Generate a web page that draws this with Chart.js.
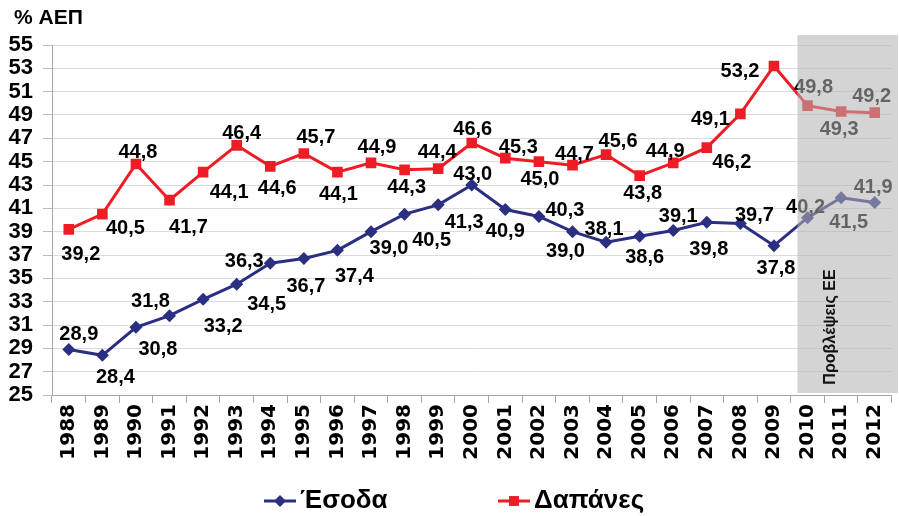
<!DOCTYPE html>
<html>
<head>
<meta charset="utf-8">
<script src="https://cdn.jsdelivr.net/npm/chart.js@4/dist/chart.umd.min.js"></script>
<style>
  html, body { margin: 0; padding: 0; background: #ffffff; }
  #wrap { width: 899px; height: 516px; position: relative; }
</style>
</head>
<body>
<div id="wrap"><canvas id="c" width="899" height="516"></canvas></div>
<script>
// ---- data ----
const years = ['1988','1989','1990','1991','1992','1993','1994','1995','1996','1997','1998','1999',
               '2000','2001','2002','2003','2004','2005','2006','2007','2008','2009','2010','2011','2012'];
const revenue = [28.9,28.4,30.8,31.8,33.2,34.5,36.3,36.7,37.4,39.0,40.5,41.3,
                 43.0,40.9,40.3,39.0,38.1,38.6,39.1,39.8,39.7,37.8,40.2,41.9,41.5];
const expenditure = [39.2,40.5,44.8,41.7,44.1,46.4,44.6,45.7,44.1,44.9,44.3,44.4,
                     46.6,45.3,45.0,44.7,45.6,43.8,44.9,46.2,49.1,53.2,49.8,49.3,49.2];
const seriesNames = ['Έσοδα', 'Δαπάνες'];
const yMin = 25, yMax = 55, yStep = 2;
const forecastFrom = '2010';
const forecastLabel = 'Προβλέψεις ΕΕ';
const axisTitle = '% ΑΕΠ';

// ---- label placement (style, not data) ----
const revOffsets = [[10,-15],[13,22],[22,22],[-19,-14],[20,27],[30,20],[-26,-2],[2,28],[17,26],[18,17],[27,26],[26,18],
                    [1,-11],[0,22],[26,-6],[-7,20],[-2,-13],[5,21],[5,-14],[2,27],[14,-8],[2,23],[-2,-10],[32,-10],[-26,20]];
const expOffsets = [[12,25],[23,14],[2,-12],[19,27],[26,20],[5,-12],[7,22],[12,-16],[1,22],[6,-15],[2,18],[-1,-16],
                    [1,-14],[13,-11],[1,18],[2,-11],[12,-13],[3,18],[-8,-11],[25,15],[-30,6],[-34,5],[6,-18],[-2,18],[-3,-16]];

const NAVY = '#2b2f82';
const RED = '#ee1c25';
const fmt = v => v.toFixed(1).replace('.', ',');

const overlayPlugin = {
  id: 'overlay',
  afterDatasetsDraw(chart) {
    const ctx = chart.ctx;
    const xs = chart.scales.x, ys = chart.scales.y;
    // data labels
    ctx.save();
    ctx.font = 'bold 20px "Liberation Sans", Arial, sans-serif';
    ctx.fillStyle = '#000';
    ctx.textAlign = 'center';
    ctx.textBaseline = 'middle';
    [[0, revenue, revOffsets], [1, expenditure, expOffsets]].forEach(([di, vals, offs]) => {
      const meta = chart.getDatasetMeta(di);
      meta.data.forEach((pt, i) => {
        const o = offs[i] || [0, -14];
        ctx.fillText(fmt(vals[i]), pt.x + o[0], pt.y + o[1]);
      });
    });
    ctx.restore();

    // forecast shading overlay
    const idx = years.indexOf(forecastFrom);
    const cw = xs.getPixelForValue(1) - xs.getPixelForValue(0);
    const left = xs.getPixelForValue(idx) - 0.3 * cw;
    const right = chart.width - 1;
    const top = ys.getPixelForValue(yMax) - 10;
    const bottom = ys.getPixelForValue(yMin) - 2;
    ctx.save();
    ctx.fillStyle = 'rgba(178,178,178,0.56)';
    ctx.fillRect(left, top, right - left, bottom - top);
    ctx.translate((left + right) / 2 - 17, bottom - 66);
    ctx.rotate(-Math.PI / 2);
    ctx.font = 'bold 16px "Liberation Sans", Arial, sans-serif';
    ctx.fillStyle = '#111';
    ctx.textAlign = 'center';
    ctx.textBaseline = 'middle';
    ctx.fillText(forecastLabel, 0, 0);
    ctx.restore();
  },
  afterDraw(chart) {
    const ctx = chart.ctx;
    ctx.save();
    // axis title
    ctx.font = 'bold 21px "Liberation Sans", Arial, sans-serif';
    ctx.fillStyle = '#000';
    ctx.textAlign = 'left';
    ctx.textBaseline = 'middle';
    ctx.fillText(axisTitle, 14, 18);
    // legend
    const items = [
      { x: 264, color: NAVY, style: 'rectRot', r: 6, text: chart.data.datasets[0].label },
      { x: 498, color: RED, style: 'rect', r: 7, text: chart.data.datasets[1].label }
    ];
    const ly = 501;
    items.forEach(it => {
      ctx.strokeStyle = it.color;
      ctx.lineWidth = 3;
      ctx.beginPath();
      ctx.moveTo(it.x, ly);
      ctx.lineTo(it.x + 32, ly);
      ctx.stroke();
      ctx.fillStyle = it.color;
      Chart.helpers.drawPoint(ctx, { pointStyle: it.style, radius: it.r, borderWidth: 0, rotation: 0 }, it.x + 16, ly);
      ctx.fillStyle = '#000';
      ctx.font = 'bold 26px "Liberation Sans", Arial, sans-serif';
      ctx.textAlign = 'left';
      ctx.fillText(it.text, it.x + 36, ly);
    });
    ctx.restore();
  }
};

new Chart(document.getElementById('c'), {
  type: 'line',
  data: {
    labels: years,
    datasets: [
      {
        label: seriesNames[0],
        data: revenue,
        borderColor: NAVY,
        backgroundColor: NAVY,
        borderWidth: 3,
        pointStyle: 'rectRot',
        pointRadius: 6.5,
        pointBorderWidth: 0,
        tension: 0
      },
      {
        label: seriesNames[1],
        data: expenditure,
        borderColor: RED,
        backgroundColor: RED,
        borderWidth: 3,
        pointStyle: 'rect',
        pointRadius: 7.5,
        pointBorderWidth: 0,
        tension: 0
      }
    ]
  },
  options: {
    responsive: false,
    animation: false,
    devicePixelRatio: 1,
    layout: { padding: { top: 45, right: -5, left: 0, bottom: 0 } },
    plugins: {
      legend: { display: false },
      tooltip: { enabled: false },
      title: { display: false }
    },
    scales: {
      x: {
        offset: true,
        grid: { offset: true, drawOnChartArea: false, drawTicks: true, tickLength: 8, color: '#a6a6a6' },
        border: { display: true, color: '#a6a6a6', width: 1 },
        ticks: {
          autoSkip: false,
          maxRotation: 90,
          minRotation: 90,
          padding: 1,
          color: '#000',
          font: { family: '"DejaVu Sans", sans-serif', weight: 'bold', size: 20 }
        },
        afterFit(scale) { scale.height = 121; scale.paddingRight = 0; scale.paddingLeft = 0; }
      },
      y: {
        min: yMin,
        max: yMax,
        grid: { color: '#dcdcdc', lineWidth: 1, tickLength: 9, tickColor: '#bdbdbd' },
        border: { display: true, color: '#a6a6a6', width: 1 },
        ticks: {
          stepSize: yStep,
          autoSkip: false,
          maxTicksLimit: 40,
          padding: 10,
          color: '#000',
          font: { family: '"Liberation Sans", Arial, sans-serif', weight: 'bold', size: 22 }
        },
        afterFit(scale) { scale.width = 52; scale.paddingTop = 0; scale.paddingBottom = 0; }
      }
    }
  },
  plugins: [overlayPlugin]
});
</script>
</body>
</html>
